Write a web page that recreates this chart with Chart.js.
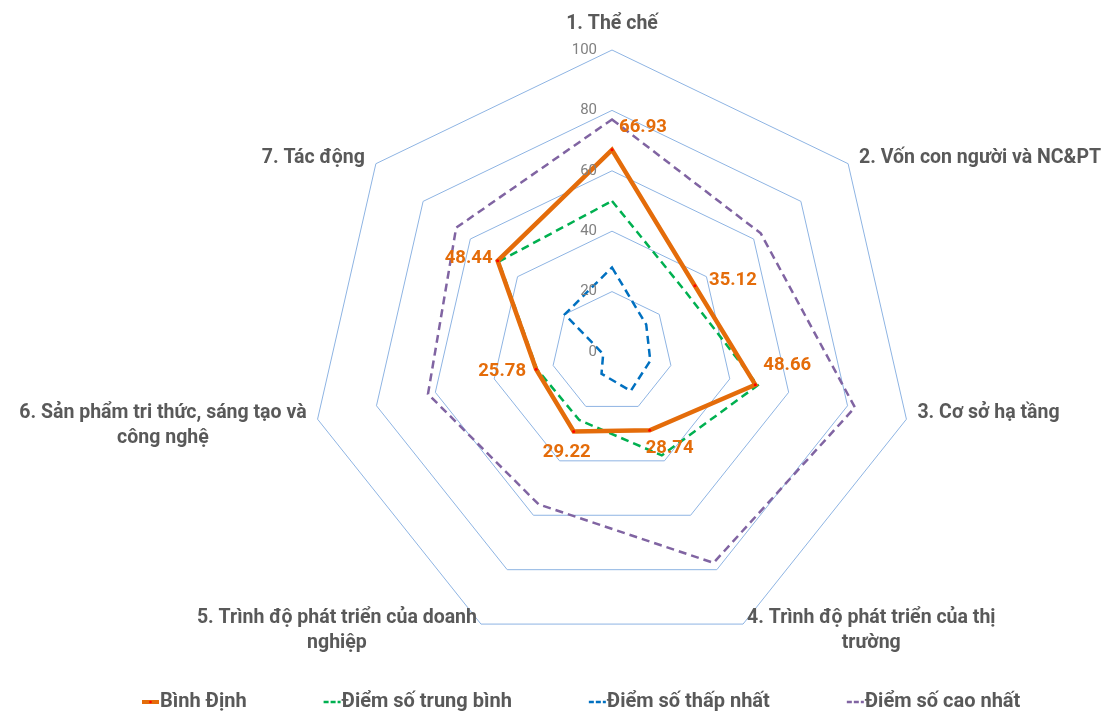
<!DOCTYPE html>
<html>
<head>
<meta charset="utf-8">
<script src="https://cdn.jsdelivr.net/npm/chart.js@4"></script>
<style>
  html, body { margin: 0; padding: 0; background: #fff; }
  #wrap { width: 1108px; height: 711px; }
</style>
</head>
<body>
<div id="wrap"><canvas id="myChart" width="1108" height="711"></canvas></div>
<script>
// categories (axes)
let categories = [
    '1. Thể chế',
    '2. Vốn con người và NC&PT',
    '3. Cơ sở hạ tầng',
    ['4. Trình độ phát triển của thị', 'trường'],
    ['5. Trình độ phát triển của doanh', 'nghiệp'],
    ['6. Sản phẩm tri thức, sáng tạo và', 'công nghệ'],
    '7. Tác động'
]

// series
let seriesNames = ['Bình Định', 'Điểm số trung bình', 'Điểm số thấp nhất', 'Điểm số cao nhất']
let binhDinh = [66.93, 35.12, 48.66, 28.74, 29.22, 25.78, 48.44]
let average = [50, 31.5, 49.5, 38, 25, 25.5, 48]
let lowest = [28, 14.5, 13, 14.3, 8, 3, 20]
let highest = [77, 63, 82.5, 77.5, 56, 62.5, 66]

// axis ticks
let tickValues = [0, 20, 40, 60, 80, 100]

const ORANGE = '#E46C0A'
const GREEN = '#00B050'
const BLUE = '#0070C0'
const PURPLE = '#8064A2'
const TEXT = '#595959'
const FONT = 'Roboto'

// where each data label of "Bình Định" sits relative to its point
const labelOffsets = [[31, -22], [38, -5], [32, -19], [20, 18], [-7, 21], [-34, 2], [-29, -2]]

// custom drawing: tick labels, axis titles, data labels, legend
const radarText = {
    id: 'radarText',
    afterDraw(chart) {
        const ctx = chart.ctx
        const r = chart.scales.r
        ctx.save()

        // tick labels, left of the vertical axis
        ctx.font = `15px ${FONT}`
        ctx.fillStyle = '#808080'
        ctx.textAlign = 'right'
        ctx.textBaseline = 'middle'
        tickValues.forEach(v => {
            const d = r.getDistanceFromCenterForValue(v)
            ctx.fillText(String(v), r.xCenter - 15, r.yCenter - d)
        })

        // axis titles
        ctx.font = `bold 19.5px ${FONT}`
        ctx.fillStyle = TEXT
        ctx.textBaseline = 'middle'
        const lineH = 25
        categories.forEach((cat, i) => {
            const lines = Array.isArray(cat) ? cat : [cat]
            const p = r.getPointPosition(i, r.drawingArea)
            const widths = lines.map(l => ctx.measureText(l).width)
            const blockW = Math.max(...widths)
            let left, y
            if (i === 0) {
                left = p.x - blockW / 2
                y = p.y - 26
            } else {
                const gap = Math.abs(p.y - r.yCenter) > 200 ? 4 : 11
                left = p.x > r.xCenter ? p.x + gap : p.x - gap - blockW
                y = p.y - 6
            }
            ctx.textAlign = 'center'
            lines.forEach((l, k) => ctx.fillText(l, left + blockW / 2, y + k * lineH))
        })

        // data labels for Bình Định
        const meta = chart.getDatasetMeta(0)
        ctx.font = `bold 18.5px ${FONT}`
        ctx.fillStyle = ORANGE
        ctx.textAlign = 'center'
        meta.data.forEach((pt, i) => {
            const off = labelOffsets[i]
            ctx.fillText(binhDinh[i].toFixed(2), pt.x + off[0], pt.y + off[1])
        })

        // legend
        const colors = [ORANGE, GREEN, BLUE, PURPLE]
        ctx.font = `bold 20px ${FONT}`
        ctx.textAlign = 'left'
        let x = 142
        const ly = 702
        seriesNames.forEach((name, i) => {
            ctx.strokeStyle = colors[i]
            if (i === 0) {
                ctx.lineWidth = 4
                ctx.setLineDash([])
            } else {
                ctx.lineWidth = 2.5
                ctx.setLineDash([5, 2])
            }
            ctx.beginPath()
            ctx.moveTo(x, ly)
            ctx.lineTo(x + 17, ly)
            ctx.stroke()
            ctx.setLineDash([])
            if (i === 0) {
                ctx.fillStyle = '#FF0000'
                ctx.beginPath()
                ctx.arc(x + 8.5, ly, 1.3, 0, Math.PI * 2)
                ctx.fill()
            }
            ctx.fillStyle = TEXT
            ctx.fillText(name, x + 18, ly)
            x += 18 + ctx.measureText(name).width + 77
        })
        ctx.restore()
    }
}

const data = {
    labels: categories,
    datasets: [
        {
            label: seriesNames[0],
            data: binhDinh,
            borderColor: ORANGE,
            backgroundColor: 'transparent',
            borderWidth: 4.5,
            pointRadius: 1.5,
            pointBackgroundColor: '#FF0000',
            pointBorderWidth: 0,
            fill: false
        },
        {
            label: seriesNames[1],
            data: average,
            borderColor: GREEN,
            backgroundColor: 'transparent',
            borderWidth: 2.5,
            borderDash: [8, 5],
            pointRadius: 0,
            fill: false
        },
        {
            label: seriesNames[2],
            data: lowest,
            borderColor: BLUE,
            backgroundColor: 'transparent',
            borderWidth: 2.5,
            borderDash: [8, 5],
            pointRadius: 0,
            fill: false
        },
        {
            label: seriesNames[3],
            data: highest,
            borderColor: PURPLE,
            backgroundColor: 'transparent',
            borderWidth: 2.5,
            borderDash: [8, 5],
            pointRadius: 0,
            fill: false
        }
    ]
}

const config = {
    type: 'radar',
    data,
    options: {
        responsive: false,
        animation: false,
        layout: { padding: { left: 310, right: 194, top: 50, bottom: 57 } },
        elements: { line: { tension: 0, borderJoinStyle: 'miter' } },
        plugins: {
            legend: { display: false },
            tooltip: { enabled: false }
        },
        scales: {
            r: {
                min: 0,
                max: 100,
                ticks: { display: false, stepSize: 20 },
                pointLabels: { display: false },
                angleLines: { display: false },
                grid: { color: '#8EB4E3', lineWidth: 1 }
            }
        }
    },
    plugins: [radarText]
}

new Chart(document.getElementById('myChart'), config)
</script>
</body>
</html>
